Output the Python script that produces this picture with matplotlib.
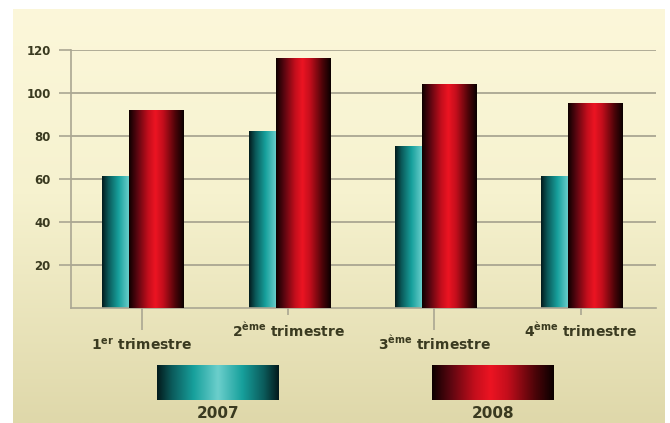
import numpy as np
import matplotlib
matplotlib.use("Agg")
from matplotlib import pyplot as plt
from matplotlib.colors import LinearSegmentedColormap

plt.rcParams['font.family'] = ['DejaVu Sans']
plt.rcParams['mathtext.fontset'] = 'dejavusans'

# donnees
trimestres = [r"1$^{\mathbf{er}}$ trimestre", r"2$^{\mathbf{ème}}$ trimestre",
              r"3$^{\mathbf{ème}}$ trimestre", r"4$^{\mathbf{ème}}$ trimestre"]
annees = ["2007", "2008"]
v2007 = [61, 82, 75, 61]
v2008 = [92, 116, 104, 95]
yticks = [20, 40, 60, 80, 100, 120]

txt_c = '#3a3a20'
grid_c = '#aaa692'

teal_cm = LinearSegmentedColormap.from_list('teal', [
    (0, '#031a1c'), (0.12, '#0b5a5a'), (0.3, '#17a09c'), (0.5, '#6ccfcc'),
    (0.7, '#17a09c'), (0.88, '#0b5a5a'), (1, '#031a1c')])
red_cm = LinearSegmentedColormap.from_list('rouge', [
    (0, '#0d0000'), (0.15, '#5a0610'), (0.35, '#c40e1c'), (0.48, '#ec1422'),
    (0.62, '#c40e1c'), (0.85, '#4a0408'), (1, '#0a0000')])
bg_cm = LinearSegmentedColormap.from_list('fond', [
    (0, '#fcf7da'), (0.45, '#f6f2cf'), (1, '#dfd8aa')])

W, H = 670, 423
fig = plt.figure(figsize=(W / 100, H / 100), dpi=100, facecolor='white')

# fond degrade
bg = fig.add_axes([13 / W, 0, 652 / W, 414 / H], zorder=-10)
bg.imshow(np.linspace(0, 1, 256).reshape(-1, 1), cmap=bg_cm, aspect='auto')
bg.axis('off')

ax = fig.add_axes([71 / W, 115 / H, 585 / W, 258 / H])
ax.set_facecolor('none')

grad = np.linspace(0, 1, 256).reshape(1, -1)
x = np.arange(len(trimestres))
w = 0.375
b1 = ax.bar(x - 0.27, v2007, w, align='edge', color='none', edgecolor='none')
b2 = ax.bar(x - 0.085, v2008, w, align='edge', color='none', edgecolor='none')
for bars, cm, z in [(b1, teal_cm, 2), (b2, red_cm, 3)]:
    for p in bars:
        x0, h = p.get_x(), p.get_height()
        ax.imshow(grad, cmap=cm, aspect='auto', zorder=z,
                  extent=(x0, x0 + p.get_width(), 0, h))

ax.set_xlim(-0.485, 3.515)
ax.set_ylim(0, 120)
ax.set_yticks(yticks, labels=[str(v) for v in yticks], fontweight='bold',
              fontsize=8.5, color=txt_c)
ax.tick_params(axis='y', length=8.6, width=1.2, color=grid_c, pad=6)
ax.set_xticks([])
ax.grid(axis='y', color=grid_c, linewidth=1.3)
ax.set_axisbelow(True)
for s in ['top', 'right']:
    ax.spines[s].set_visible(False)
for s in ['left', 'bottom']:
    ax.spines[s].set_color(grid_c)
    ax.spines[s].set_linewidth(1.2)

# etiquettes en quinconce
for i, lab in enumerate(trimestres):
    low = i % 2 == 0
    ax.vlines(i, -(22 if low else 7) / 258, 0, transform=ax.get_xaxis_transform(),
              color=grid_c, linewidth=1.2, clip_on=False)
    ax.annotate(lab, (i, 0), xycoords=ax.get_xaxis_transform(),
                xytext=(0, -(30 if low else 20.5)), textcoords='offset points',
                ha='center', va='baseline', fontsize=10, fontweight='bold',
                color=txt_c)

# legende
for k, (nom, cm, x0) in enumerate(zip(annees, [teal_cm, red_cm], [157, 432])):
    la = fig.add_axes([x0 / W, 23 / H, 122 / W, 35 / H])
    g2 = np.linspace(0, 1, 256).reshape(1, -1) * np.ones((20, 1))
    la.imshow(g2, cmap=cm, aspect='auto')
    la.axis('off')
    fig.text((x0 + 61) / W, 5 / H, nom, ha='center', va='baseline',
             fontsize=11, fontweight='bold', color=txt_c)

fig.savefig('out.png', dpi=100)
